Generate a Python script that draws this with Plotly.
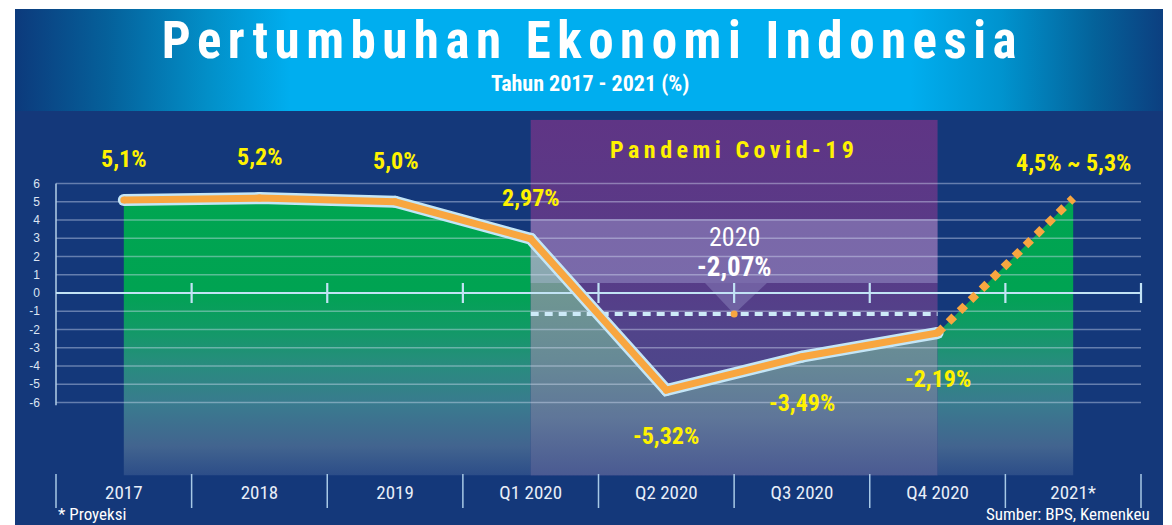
import plotly.graph_objects as go

# ---------------- data ----------------
categories = ["2017", "2018", "2019", "Q1 2020", "Q2 2020", "Q3 2020", "Q4 2020", "2021*"]
growth = [5.1, 5.2, 5.0, 2.97, -5.32, -3.49, -2.19]          # realised growth (%)
projection_2021 = 5.2                                         # plotted projection point
projection_range = [4.5, 5.3]                                 # projection label range
annual_2020 = -2.07                                           # full-year 2020 growth
annual_2020_marker_y = -1.15                                  # level of dashed 2020 marker
y_ticks = list(range(-6, 7))
covid_first, covid_last = 3, 6                                # Q1 2020 .. Q4 2020

# ---------------- geometry / styles ----------------
OFF = 8                     # page body margin
W, H = 1172 - OFF, 525 - OFF
COND = "Roboto Condensed, Roboto, Liberation Sans, sans-serif"
SANS = "Liberation Sans, Arial, sans-serif"
ORANGE = "#f8a640"
OUTLINE = "#c4e6f7"
YELLOW = "#fff200"
PANEL = "#14387a"

PX_CAT = 135.625           # pixels per category
X_LEFT_PX = 56             # screen pixel of x=-0.5
PX_UNIT = 18.25            # pixels per percent
ZERO_PX = 293              # screen pixel of y=0
Y_TOP, Y_BOT = 9.5, -10.0

def ppx(x):                 # screen pixel -> paper fraction
    return (x - OFF) / W

def ppy(y):
    return 1 - (y - OFF) / H

pad = 6 / PX_CAT
x_range = [-0.5 - pad, len(categories) - 0.5 + pad]
x_dom = [ppx(X_LEFT_PX - 6), ppx(X_LEFT_PX + len(categories) * PX_CAT + 6)]
y_dom = [ppy(ZERO_PX - Y_BOT * PX_UNIT), ppy(ZERO_PX - Y_TOP * PX_UNIT)]

def cat_to_paper(c):
    return ppx(X_LEFT_PX + (c + 0.5) * PX_CAT)

n = len(categories)
xi = list(range(n))

fig = go.Figure()

green_scale = [[0, "#00a651"], [0.36, "#00a352"], [0.5, "#119a66"], [0.62, "#288c7e"],
               [0.76, "#3a7a8f"], [0.9, "#42648f"], [1, "#2c4d88"]]
covid_area_scale = [[0, "#7aa497"], [0.375, "#6f9692"], [0.6, "#678a96"],
                    [0.8, "#5f7699"], [1, "#4a5a92"]]
covid_box_scale = [[0, "#5f3585"], [0.45, "#573c88"], [0.6, "#51448a"], [1, "#45498c"]]

def skip(**kw):
    kw.setdefault("hoverinfo", "skip")
    kw.setdefault("showlegend", False)
    return kw

# covid box background
fig.add_trace(go.Scatter(**skip(
    x=[covid_first, covid_last, covid_last, covid_first, covid_first],
    y=[Y_TOP, Y_TOP, Y_BOT, Y_BOT, Y_TOP], mode="lines", line=dict(width=0),
    fill="toself", fillgradient=dict(type="vertical", start=Y_TOP, stop=Y_BOT,
                                     colorscale=covid_box_scale))))

# areas under the line
pre_x = xi[:covid_first + 1]
pre_y = growth[:covid_first + 1]
fig.add_trace(go.Scatter(**skip(
    x=pre_x + [pre_x[-1], pre_x[0]], y=pre_y + [Y_BOT, Y_BOT], mode="lines",
    line=dict(width=0), fill="toself",
    fillgradient=dict(type="vertical", start=6, stop=Y_BOT, colorscale=green_scale))))

cov_x = xi[covid_first:covid_last + 1]
cov_y = growth[covid_first:covid_last + 1]
fig.add_trace(go.Scatter(**skip(
    x=cov_x + [cov_x[-1], cov_x[0]], y=cov_y + [Y_BOT, Y_BOT], mode="lines",
    line=dict(width=0), fill="toself",
    fillgradient=dict(type="vertical", start=6, stop=Y_BOT, colorscale=covid_area_scale))))

post_x = [xi[covid_last], xi[-1]]
post_y = [growth[-1], projection_2021]
fig.add_trace(go.Scatter(**skip(
    x=post_x + [post_x[-1], post_x[0]], y=post_y + [Y_BOT, Y_BOT], mode="lines",
    line=dict(width=0), fill="toself",
    fillgradient=dict(type="vertical", start=6, stop=Y_BOT, colorscale=green_scale))))

# lighter callout band + pointer inside the covid box
band_fill = "rgba(190,200,240,0.33)"
fig.add_trace(go.Scatter(**skip(
    x=[covid_first, covid_last, covid_last, covid_first, covid_first],
    y=[4.05, 4.05, 0.55, 0.55, 4.05], mode="lines", line=dict(width=0),
    fill="toself", fillcolor=band_fill)))
mid_2020 = (covid_first + covid_last) / 2
fig.add_trace(go.Scatter(**skip(
    x=[mid_2020 - 0.215, mid_2020 + 0.242, mid_2020, mid_2020 - 0.215],
    y=[0.55, 0.55, annual_2020_marker_y, 0.55], mode="lines", line=dict(width=0),
    fill="toself", fillcolor="rgba(190,200,240,0.25)")))

# grid lines (drawn above the areas)
gx, gy = [], []
for v in y_ticks:
    if v == 0:
        continue
    gx += [-0.5, n - 0.5, None]
    gy += [v, v, None]
fig.add_trace(go.Scatter(**skip(x=gx, y=gy, mode="lines",
                                line=dict(color="rgba(215,225,245,0.42)", width=1.3))))
# left axis line
fig.add_trace(go.Scatter(**skip(x=[-0.5, -0.5], y=[y_ticks[-1], y_ticks[0] - 0.15], mode="lines",
                                line=dict(color="#b3cfe8", width=1.5))))
# zero line with category ticks
zx, zy = [-0.5, n - 0.5, None], [0, 0, None]
for k in range(n):
    zx += [k + 0.5, k + 0.5, None]
    zy += [-0.55, 0.55, None]
fig.add_trace(go.Scatter(**skip(x=zx, y=zy, mode="lines",
                                line=dict(color="#c2e3f5", width=2.2))))

# dashed 2020 annual marker
fig.add_trace(go.Scatter(**skip(x=[covid_first, covid_last], y=[annual_2020_marker_y] * 2,
                                mode="lines",
                                line=dict(color="#cdeaf8", width=4, dash="8px,6px"))))

# main line: outline + orange
fig.add_trace(go.Scatter(**skip(x=xi[:len(growth)], y=growth, mode="lines+markers",
                                line=dict(color=OUTLINE, width=12),
                                marker=dict(color=OUTLINE, size=12))))
fig.add_trace(go.Scatter(**skip(x=xi[:len(growth)], y=growth, mode="lines+markers",
                                line=dict(color=ORANGE, width=7),
                                marker=dict(color=ORANGE, size=7, line=dict(width=0)))))
# projection (square dashes on a 45 degree line read as diamonds)
fig.add_trace(go.Scatter(**skip(x=post_x, y=post_y, mode="lines",
                                line=dict(color=ORANGE, width=8, dash="8px,7.5px"))))
# small dot at the 2020 marker
fig.add_trace(go.Scatter(**skip(x=[mid_2020], y=[annual_2020_marker_y], mode="markers",
                                marker=dict(color=ORANGE, size=7, line=dict(width=0)))))

# banner gradient on a full-page helper axis (screen pixel coordinates)
fig.add_trace(go.Scatter(**skip(
    x=[15, 1163, 1163, 15, 15], y=[9, 9, 111, 111, 9], mode="lines", line=dict(width=0),
    fill="toself", xaxis="x2", yaxis="y2",
    fillgradient=dict(type="horizontal", start=15, stop=1163,
                      colorscale=[[0, "#0c3a7c"], [0.08, "#05609a"], [0.17, "#0290c9"],
                                  [0.24, "#00aeef"], [0.78, "#00aeef"], [0.86, "#0093ce"],
                                  [0.94, "#04629a"], [1, "#0c3f80"]]))))

# ---------------- annotations ----------------
ann = []
def fmt(v):
    return f"{v}".replace(".", ",") + "%"

LABEL_FONT = dict(family=COND, size=24, color=YELLOW, weight="bold")
for i, v in enumerate(growth):
    ann.append(dict(x=i, y=v, xref="x", yref="y", text=fmt(v), showarrow=False,
                    yanchor="middle", yshift=41 if v > 0 else -46, font=LABEL_FONT))
ann.append(dict(x=n - 1, y=projection_2021, xref="x", yref="y",
                text=f"{fmt(projection_range[0])} ~ {fmt(projection_range[1])}",
                showarrow=False, yanchor="middle", yshift=35, font=LABEL_FONT))

ann.append(dict(x=mid_2020, y=ppy(237), xref="x", yref="paper", text="2020", showarrow=False,
                yanchor="middle", font=dict(family=COND, size=26, color="white")))
ann.append(dict(x=mid_2020, y=ppy(267), xref="x", yref="paper", text=fmt(annual_2020),
                showarrow=False, yanchor="middle",
                font=dict(family=COND, size=27, color="white", weight="bold")))
ann.append(dict(x=mid_2020, y=ppy(150), xref="x", yref="paper", text="Pandemi Covid-19",
                showarrow=False, yanchor="middle",
                font=dict(family=COND, size=24, color=YELLOW, weight="bold")))

ann.append(dict(x=ppx(592), y=ppy(40), xref="paper", yref="paper", xanchor="center",
                yanchor="middle", text="Pertumbuhan Ekonomi Indonesia", showarrow=False,
                font=dict(family=COND, size=51, color="white", weight="bold")))
ann.append(dict(x=ppx(590), y=ppy(84), xref="paper", yref="paper", xanchor="center",
                yanchor="middle", text="Tahun 2017 - 2021 (%)", showarrow=False,
                font=dict(family=COND, size=22, color="white", weight="bold")))
ann.append(dict(x=ppx(56), y=ppy(514), xref="paper", yref="paper", xanchor="left",
                yanchor="middle", text="* Proyeksi", showarrow=False,
                font=dict(family=COND, size=17, color="white")))
ann.append(dict(x=ppx(1152), y=ppy(514), xref="paper", yref="paper", xanchor="right",
                yanchor="middle", text="Sumber: BPS, Kemenkeu", showarrow=False,
                font=dict(family=COND, size=17, color="white")))

# ---------------- shapes ----------------
shapes = [dict(type="rect", xref="paper", yref="paper", x0=ppx(15), x1=ppx(1163),
               y0=ppy(540), y1=ppy(111), fillcolor=PANEL, line=dict(width=0), layer="below")]
for k in range(n + 1):
    xp = cat_to_paper(k - 0.5)
    shapes.append(dict(type="line", xref="paper", yref="paper", x0=xp, x1=xp,
                       y0=ppy(474), y1=ppy(508), line=dict(color="#a7c8e6", width=1.5)))

fig.update_layout(
    width=W, height=H, margin=dict(l=0, r=0, t=0, b=0),
    paper_bgcolor="white", plot_bgcolor="rgba(0,0,0,0)",
    showlegend=False, annotations=ann, shapes=shapes,
    xaxis=dict(domain=x_dom, range=x_range, tickvals=xi, ticktext=categories,
               showgrid=False, zeroline=False, showline=False, ticks="",
               ticklabelstandoff=3, fixedrange=True,
               tickfont=dict(family=COND, size=19, color="#e8eef8")),
    yaxis=dict(domain=y_dom, range=[Y_BOT, Y_TOP], tickvals=y_ticks,
               ticktext=[str(v) for v in y_ticks],
               showgrid=False, zeroline=False, showline=False, ticks="",
               ticklabelstandoff=9, fixedrange=True,
               tickfont=dict(family=SANS, size=12, color="#dde5f2")),
    xaxis2=dict(domain=[0, 1], range=[OFF, OFF + W], visible=False, anchor="y2",
                fixedrange=True),
    yaxis2=dict(domain=[0, 1], range=[OFF + H, OFF], visible=False, anchor="x2",
                fixedrange=True),
)

post = """
var gd = document.getElementById('{plot_id}');
function spaceOut(){
  document.querySelectorAll('text.annotation-text').forEach(function(t){
    var s = t.textContent;
    if (s.indexOf('Pertumbuhan') === 0) { t.style.letterSpacing = '6.5px'; }
    else if (s.indexOf('Pandemi') === 0) { t.style.letterSpacing = '4.5px'; }
  });
}
spaceOut();
if (gd && gd.on) { gd.on('plotly_afterplot', spaceOut); }
"""

fig.write_html("out.html", post_script=post)
